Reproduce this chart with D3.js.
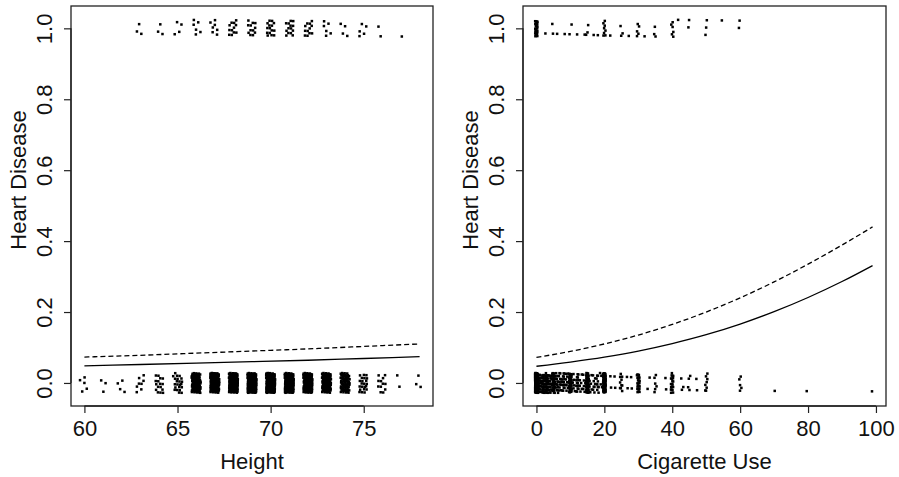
<!DOCTYPE html>
<meta charset="utf-8">
<style>
body { margin: 0; background: #fff; }
text { font-family: "Liberation Sans", Arial, Helvetica, sans-serif; fill: #111; }
</style>
<body>
<svg width="899" height="477"></svg>
<script src="https://d3js.org/d3.v7.min.js"></script>
<script>
// height (inches) and how many people sit at each value
var heights      = [60, 61, 62, 63, 64, 65, 66, 67, 68, 69, 70, 71, 72, 73, 74, 75, 76, 77, 78];
var heightNoCHD  = [ 5,  3,  4,  8, 16, 22, 90,120,150,160,160,150,130,100, 70, 22, 12,  2,  3];
var heightCHD    = [ 0,  0,  0,  3,  3,  4,  6,  7, 12, 12, 15, 14, 12,  6,  4,  5,  2,  1,  0];

// fitted curves, height panel (solid and dashed)
var heightFitX   = [60, 63, 66, 69, 72, 75, 78];
var heightSolid  = [0.048, 0.052, 0.056, 0.060, 0.064, 0.069, 0.074];
var heightDashed = [0.073, 0.078, 0.084, 0.090, 0.096, 0.103, 0.110];

// cigarettes per day and counts
var cigsNoCHD      = [0, 1, 2, 3, 4, 5, 6, 7, 8, 9, 10, 11, 12, 13, 14, 15, 16, 17, 18, 19, 20, 22, 23, 25, 27, 28, 30, 33, 35, 38, 40, 43, 45, 47, 50, 60, 70, 80, 99];
var cigsNoCHDCount = [200,20, 30, 35, 15, 40, 15, 12, 15, 10,  50,  6, 15,  6,  6, 50,  6,  8, 10,  4, 70,  2,  2, 10,  2,  2, 25,  2,  6,  2, 20,  3,  4,  2,  8,  5,  1,  1,  1];
var cigsCHD        = [0, 3, 5, 6, 8, 10, 12, 14, 15, 17, 18, 20, 22, 25, 27, 30, 32, 35, 40, 42, 45, 50, 55, 60];
var cigsCHDCount   = [25, 1, 2, 1, 1,  2,  1,  1,  3,  1,  1,  8,  1,  3,  1,  5,  1,  3,  6,  1,  2,  3,  1,  2];

// fitted curves, cigarette panel
var cigFitX   = [0, 10, 20, 30, 40, 50, 60, 70, 80, 90, 99];
var cigSolid  = [0.047, 0.059, 0.073, 0.090, 0.111, 0.136, 0.166, 0.201, 0.241, 0.286, 0.331];
var cigDashed = [0.072, 0.089, 0.110, 0.135, 0.165, 0.200, 0.240, 0.285, 0.335, 0.389, 0.440];

var yTicks = [0, 0.2, 0.4, 0.6, 0.8, 1.0];
var heightTicks = [60, 65, 70, 75];
var cigTicks = [0, 20, 40, 60, 80, 100];

var svg = d3.select("svg");

function frac(v) { return v - Math.floor(v); }

// spreads n points over a cell without randomness (R2 sequence)
function spread(vals, counts, yv, jx, jy, seed) {
  var pts = [];
  vals.forEach(function(v, i) {
    for (var k = 0; k < counts[i]; k++) {
      var u = frac(0.5 + (k + seed + i * 7) * 0.7548776662);
      var w = frac(0.5 + (k + seed + i * 7) * 0.5698402910);
      pts.push([v + (u - 0.5) * 2 * jx, yv + (w - 0.5) * 2 * jy]);
    }
  });
  return pts;
}

function panel(p) {
  var g = svg.append("g");
  var x = d3.scaleLinear().domain(p.xDomain).range([p.left, p.right]);
  var y = d3.scaleLinear().domain([-0.065, 1.063]).range([406, 6]);

  var pts = spread(p.v0, p.c0, 0, p.jx, 0.028, 0).concat(spread(p.v1, p.c1, 1, p.jx, 0.024, 3));
  g.selectAll("rect.pt").data(pts).enter().append("rect")
      .attr("class", "pt")
      .attr("x", function(d) { return x(d[0]) - 1.25; })
      .attr("y", function(d) { return y(d[1]) - 1.25; })
      .attr("width", 2.5).attr("height", 2.5)
      .attr("fill", "#000");

  var line = d3.line()
      .x(function(d) { return x(d[0]); })
      .y(function(d) { return y(d[1]); })
      .curve(d3.curveMonotoneX);
  g.append("path").datum(d3.zip(p.fitX, p.solid))
      .attr("d", line).attr("fill", "none").attr("stroke", "#000").attr("stroke-width", 1.3);
  g.append("path").datum(d3.zip(p.fitX, p.dashed))
      .attr("d", line).attr("fill", "none").attr("stroke", "#000").attr("stroke-width", 1.3)
      .attr("stroke-dasharray", "5,3");

  g.append("rect")
      .attr("x", p.left).attr("y", 6)
      .attr("width", p.right - p.left).attr("height", 400)
      .attr("fill", "none").attr("stroke", "#222").attr("stroke-width", 1.3);

  var ax = g.append("g").attr("transform", "translate(0,406)")
      .call(d3.axisBottom(x).tickValues(p.xTicks).tickSize(7).tickPadding(7).tickFormat(d3.format("d")));
  ax.select(".domain").attr("stroke", "#222").attr("stroke-width", 1.3)
      .attr("d", "M" + x(p.xTicks[0]) + ",0H" + x(p.xTicks[p.xTicks.length - 1]));
  ax.selectAll(".tick line").attr("stroke", "#222").attr("stroke-width", 1.2);
  ax.selectAll(".tick text").attr("font-size", 22).attr("fill", "#111")
      .attr("font-family", "Liberation Sans, Arial, sans-serif");

  var ay = g.append("g").attr("transform", "translate(" + p.left + ",0)")
      .call(d3.axisLeft(y).tickValues(yTicks).tickSize(7).tickFormat(d3.format(".1f")));
  ay.select(".domain").attr("stroke", "#222").attr("stroke-width", 1.3)
      .attr("d", "M0," + y(0) + "V" + y(1));
  ay.selectAll(".tick line").attr("stroke", "#222").attr("stroke-width", 1.2);
  ay.selectAll(".tick text")
      .attr("font-size", 22).attr("fill", "#111")
      .attr("font-family", "Liberation Sans, Arial, sans-serif")
      .attr("x", null).attr("dy", null)
      .attr("text-anchor", "middle")
      .attr("transform", "translate(-19,0) rotate(-90)");

  g.append("text")
      .attr("x", (p.left + p.right) / 2).attr("y", 469)
      .attr("text-anchor", "middle").attr("font-size", 22)
      .text(p.xLabel);
  g.append("text")
      .attr("transform", "translate(" + (p.left - 45) + ",180) rotate(-90)")
      .attr("text-anchor", "middle").attr("font-size", 22)
      .text("Heart Disease");
}

panel({
  left: 71, right: 433, xDomain: [59.28, 78.72], jx: 0.24,
  v0: heights, c0: heightNoCHD, v1: heights, c1: heightCHD,
  fitX: heightFitX, solid: heightSolid, dashed: heightDashed,
  xTicks: heightTicks, xLabel: "Height"
});
panel({
  left: 523, right: 886, xDomain: [-3.96, 102.96], jx: 0.4,
  v0: cigsNoCHD, c0: cigsNoCHDCount, v1: cigsCHD, c1: cigsCHDCount,
  fitX: cigFitX, solid: cigSolid, dashed: cigDashed,
  xTicks: cigTicks, xLabel: "Cigarette Use"
});
</script>
</body>
